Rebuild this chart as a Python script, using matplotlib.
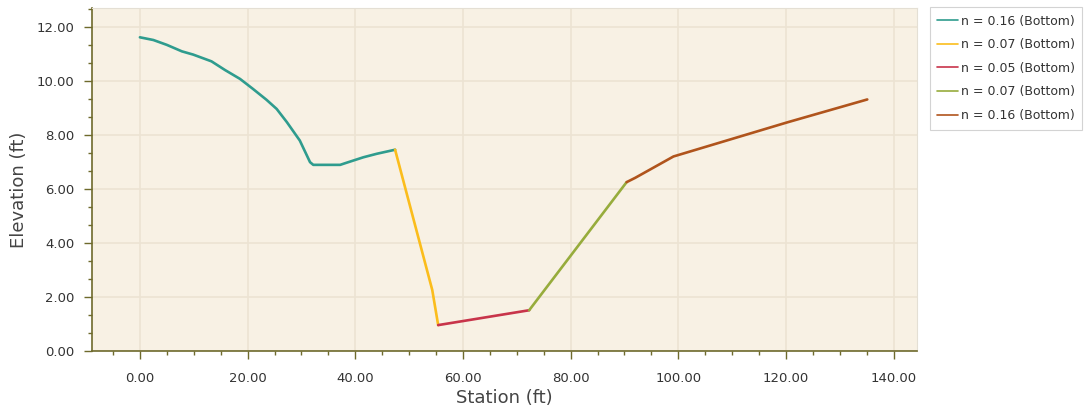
import numpy as np
import matplotlib
matplotlib.use("Agg")
import matplotlib.pyplot as plt
from matplotlib.ticker import MultipleLocator, FormatStrFormatter

# Cross-section segments (station ft, elevation ft)
sta_1 = [0.0, 2.5, 5.0, 7.8, 9.9, 13.3, 15.8, 18.6, 21.0, 23.5, 25.4, 27.3, 29.7, 31.6, 32.2, 37.2, 38.1, 41.5, 44.0, 47.4]
elev_1 = [11.61, 11.51, 11.33, 11.09, 10.97, 10.72, 10.40, 10.07, 9.70, 9.30, 8.96, 8.47, 7.79, 6.99, 6.89, 6.89, 6.95, 7.17, 7.30, 7.45]
sta_2 = [47.4, 54.3, 55.4]
elev_2 = [7.45, 2.26, 0.96]
sta_3 = [55.4, 72.3]
elev_3 = [0.96, 1.51]
sta_4 = [72.3, 90.4]
elev_4 = [1.51, 6.25]
sta_5 = [90.4, 92.0, 99.1, 120.2, 135.1]
elev_5 = [6.25, 6.41, 7.20, 8.46, 9.31]

labels = ["n = 0.16 (Bottom)", "n = 0.07 (Bottom)", "n = 0.05 (Bottom)",
          "n = 0.07 (Bottom)", "n = 0.16 (Bottom)"]
colors = ["#2f9c8e", "#fbbd1c", "#c8344a", "#97ac3c", "#b0541c"]

fig = plt.figure(figsize=(10.86, 4.13), dpi=100)
ax = fig.add_axes([0.0847, 0.150, 0.760, 0.831])
ax.set_facecolor("#f8f1e4")

segments = [(sta_1, elev_1), (sta_2, elev_2), (sta_3, elev_3), (sta_4, elev_4), (sta_5, elev_5)]
for (s, e), lab, c in zip(segments, labels, colors):
    ax.plot(s, e, color=c, lw=1.9, label=lab, solid_capstyle="round")

ax.set_xlim(-8.9, 144.4)
ax.set_ylim(0, 12.7)
ax.xaxis.set_major_locator(MultipleLocator(20))
ax.xaxis.set_minor_locator(MultipleLocator(5))
ax.yaxis.set_major_locator(MultipleLocator(2))
ax.yaxis.set_minor_locator(MultipleLocator(2 / 3))
ax.xaxis.set_major_formatter(FormatStrFormatter("%.2f"))
ax.yaxis.set_major_formatter(FormatStrFormatter("%.2f"))

ax.grid(True, which="major", color="#ece3d3", lw=1.2)
ax.set_axisbelow(True)

for side in ["left", "bottom"]:
    ax.spines[side].set_color("#6e6a2c")
    ax.spines[side].set_linewidth(1.2)
for side in ["top", "right"]:
    ax.spines[side].set_color("#e4dfd4")

ax.tick_params(which="major", length=6, width=1, color="#6e6a2c", labelsize=9.5,
               labelcolor="#333333")
ax.tick_params(axis="x", which="major", pad=9)
ax.tick_params(axis="y", which="major", pad=6.5)
ax.tick_params(which="minor", length=3, width=1, color="#6e6a2c")

ax.set_xlabel("Station (ft)", fontsize=13, color="#444444")
ax.set_ylabel("Elevation (ft)", fontsize=13, color="#444444")
ax.xaxis.set_label_coords(0.5, -0.112)
ax.yaxis.set_label_coords(-0.078, 0.47)

leg = fig.legend(loc="upper left", bbox_to_anchor=(0.856, 0.983), fontsize=9,
                 frameon=True, fancybox=False, handlelength=1.7, handletextpad=0.2,
                 labelspacing=0.85, borderpad=0.6, borderaxespad=0)
leg.get_frame().set_edgecolor("#c8c8c8")
leg.get_frame().set_linewidth(0.8)
for line in leg.get_lines():
    line.set_linewidth(1.2)
for t in leg.get_texts():
    t.set_color("#333333")

fig.savefig("out.png", dpi=100, facecolor="white")
